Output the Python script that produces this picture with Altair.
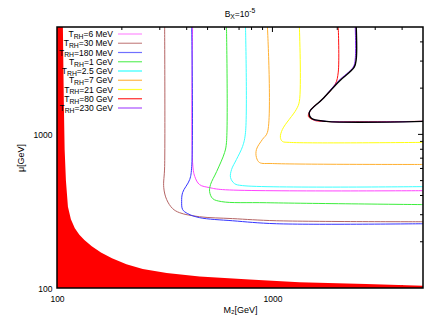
import altair as alt
import pandas as pd

# ---------------- data ----------------
series_names = ["6 MeV", "30 MeV", "180 MeV", "1 GeV", "2.5 GeV", "7 GeV", "21 GeV", "80 GeV", "230 GeV"]
line_colors = ["#ff44ff", "#b56565", "#3535ff", "#3cee3c", "#3cffff", "#ffb030", "#ffff10", "#ff1010", "#9030ff"]
legend_colors = ["#ff8cff", "#c88888", "#7070ff", "#60f060", "#30ffff", "#ffb848", "#ffff30", "#ff2828", "#a850ff"]

curve_M = {
    "6 MeV":   [426, 426, 436, 459, 511, 587, 5000],
    "30 MeV":  [316, 316, 313, 323, 344, 371, 459, 653, 1044, 5000],
    "180 MeV": [422, 422, 413, 383, 379, 383, 404, 459, 653, 1044, 5000],
    "1 GeV":   [612, 612, 600, 551, 516, 511, 528, 581, 938, 5000],
    "2.5 GeV": [750, 750, 727, 681, 646, 639, 667, 727, 5000],
    "7 GeV":   [948, 948, 899, 843, 843, 871, 1000, 5000],
    "21 GeV":  [1334, 1334, 1292, 1113, 1089, 1113, 1199, 5000],
    "80 GeV":  [2021, 2021, 1957, 1705, 1516, 1468, 1565, 1687, 5000],
    "230 GeV": [2423, 2423, 2371, 2020, 1705, 1484, 1516, 1778, 5000],
}
curve_mu = {
    "6 MeV":   [5000, 656, 532, 471, 450, 437, 430],
    "30 MeV":  [5000, 618, 450, 376, 329, 309, 291, 283, 274, 270],
    "180 MeV": [5000, 618, 508, 418, 365, 324, 305, 287, 274, 262, 262],
    "1 GeV":   [5000, 887, 763, 573, 471, 424, 382, 365, 359, 349],
    "2.5 GeV": [5000, 1030, 835, 687, 590, 524, 478, 464, 457],
    "7 GeV":   [5000, 1030, 928, 798, 707, 656, 646, 637],
    "21 GeV":  [5000, 1643, 1457, 1078, 956, 900, 887, 887],
    "80 GeV":  [5000, 2543, 2122, 1693, 1457, 1311, 1235, 1216, 1216],
    "230 GeV": [5000, 3092, 2741, 2221, 1693, 1392, 1272, 1216, 1216],
}
black_M = [2449, 2449, 2397, 2043, 1705, 1484, 1516, 1778, 5000]
black_mu = [5000, 3092, 2741, 2221, 1693, 1392, 1272, 1216, 1216]

red_M = [100, 106.5, 107.5, 108.5, 110, 112.4, 116, 121, 127, 134, 145, 160, 180, 210, 250, 323, 459, 783, 1334, 2723, 5000]
red_mu = [5000, 5000, 1700, 800, 500, 338, 280, 245, 222, 205, 187, 170, 156, 143, 133, 125, 119, 113.5, 109, 106, 103.5]

axis_labels = [100, 1000]
major_ticks = [1000]
minor_ticks = [200, 300, 400, 500, 600, 700, 800, 900, 2000, 3000, 4000]

# ---------------- layout ----------------
W, H = 366, 261
FONT = "Liberation Sans"
FS, SFS = 8.5, 6.8
ARIAL = {c: 556 for c in "0123456789"}
ARIAL.update({" ": 278, "=": 584, ".": 278, "M": 833, "e": 556, "V": 667, "G": 778,
              "T": 611, "R": 722, "H": 722, "B": 667, "X": 667, "-": 333})


def tw(s, size):
    return sum(ARIAL.get(c, 556) for c in s) * size / 1000.0


xs = alt.Scale(type="log", domain=[100, 5000], nice=False)
ys = alt.Scale(type="log", domain=[100, 5000], nice=False)

xaxis = alt.Axis(values=axis_labels, format="d", title="M₂[GeV]", ticks=False, domain=False,
                 grid=False, labelFontSize=FS, labelPadding=6, labelFlush=False,
                 titleFontSize=9, titleFontWeight="normal", titlePadding=3)
yaxis = alt.Axis(values=axis_labels, format="d", title="μ[GeV]", ticks=False, domain=False,
                 grid=False, labelFontSize=FS, labelPadding=5, labelFlush=False,
                 titleFontSize=9, titleFontWeight="normal", titlePadding=8)


def X():
    return alt.X("M:Q", scale=xs, axis=xaxis)


def Y():
    return alt.Y("mu:Q", scale=ys, axis=yaxis)


rows = []
for name in series_names:
    for k, (m, u) in enumerate(zip(curve_M[name], curve_mu[name])):
        rows.append({"s": name, "M": m, "mu": u, "k": k})
curves = pd.DataFrame(rows)
black = pd.DataFrame({"M": black_M, "mu": black_mu, "k": list(range(len(black_M)))})
red = pd.DataFrame({"M": red_M, "mu": red_mu, "base": [100] * len(red_M)})

layers = []

# inward ticks (gnuplot style, mirrored)
for vals, L in [(major_ticks, 5), (minor_ticks, 3)]:
    tdf = pd.DataFrame({"M": vals, "mu": vals})
    base = alt.Chart(tdf).mark_rule(color="black", strokeWidth=1)
    layers.append(base.encode(x=X(), y=alt.value(H), y2=alt.value(H - L)))
    layers.append(base.encode(x=X(), y=alt.value(0), y2=alt.value(L)))
    layers.append(base.encode(y=Y(), x=alt.value(0), x2=alt.value(L)))
    layers.append(base.encode(y=Y(), x=alt.value(W), x2=alt.value(W - L)))

# red excluded region
layers.append(
    alt.Chart(red).mark_area(color="#ff0000", opacity=1, clip=True).encode(
        x=X(), y=Y(), y2="base:Q",
    )
)

# contour lines
layers.append(
    alt.Chart(curves).mark_line(strokeWidth=1, clip=True, interpolate="catmull-rom").encode(
        x=X(), y=Y(),
        color=alt.Color("s:N", scale=alt.Scale(domain=series_names, range=line_colors), legend=None),
        order="k:Q",
    )
)
layers.append(
    alt.Chart(black).mark_line(strokeWidth=1.4, color="black", clip=True, interpolate="catmull-rom").encode(
        x=X(), y=Y(), order="k:Q",
    )
)

# border on top
layers.append(
    alt.Chart(alt.Data(values=[{}])).mark_rect(fill=None, stroke="black", strokeWidth=1.5).encode(
        x=alt.value(0), x2=alt.value(W), y=alt.value(0), y2=alt.value(H)
    )
)

# legend (gnuplot style, right aligned text with subscript)
main_rows, sub_rows, key_rows = [], [], []
for i, lab in enumerate(series_names):
    y = 7 + 9.25 * i
    s3 = "=" + lab
    x3 = 56
    x2 = x3 - tw(s3, FS)
    x1 = x2 - tw("RH", SFS)
    main_rows.append({"px": x3, "py": y, "t": s3})
    main_rows.append({"px": x1, "py": y, "t": "T"})
    sub_rows.append({"px": x2, "py": y + 2.8, "t": "RH"})
    key_rows.append({"px": 61, "px2": 85, "py": y, "c": legend_colors[i]})

layers.append(
    alt.Chart(pd.DataFrame(main_rows)).mark_text(align="right", baseline="middle", fontSize=FS, font=FONT, color="black").encode(
        x=alt.X("px:Q", scale=None, axis=None), y=alt.Y("py:Q", scale=None, axis=None), text="t:N"
    )
)
layers.append(
    alt.Chart(pd.DataFrame(sub_rows)).mark_text(align="right", baseline="middle", fontSize=SFS, font=FONT, color="black").encode(
        x=alt.X("px:Q", scale=None, axis=None), y=alt.Y("py:Q", scale=None, axis=None), text="t:N"
    )
)
layers.append(
    alt.Chart(pd.DataFrame(key_rows)).mark_rule(strokeWidth=1.2).encode(
        x=alt.X("px:Q", scale=None, axis=None), x2="px2:Q",
        y=alt.Y("py:Q", scale=None, axis=None),
        color=alt.Color("c:N", scale=None),
    )
)

# title B_X = 10^-5
parts = [("B", FS, 0), ("X", SFS, 2.8), ("=10", FS, 0), ("-5", SFS, -3.3)]
total = sum(tw(t, s) for t, s, _ in parts)
x0 = W / 2 - total / 2
trows_main, trows_sub = [], []
for t, s, dy in parts:
    r = {"px": x0, "py": -13 + dy, "t": t}
    (trows_main if s == FS else trows_sub).append(r)
    x0 += tw(t, s)
layers.append(
    alt.Chart(pd.DataFrame(trows_main)).mark_text(align="left", baseline="middle", fontSize=FS, font=FONT, color="black").encode(
        x=alt.X("px:Q", scale=None, axis=None), y=alt.Y("py:Q", scale=None, axis=None), text="t:N"
    )
)
layers.append(
    alt.Chart(pd.DataFrame(trows_sub)).mark_text(align="left", baseline="middle", fontSize=SFS, font=FONT, color="black").encode(
        x=alt.X("px:Q", scale=None, axis=None), y=alt.Y("py:Q", scale=None, axis=None), text="t:N"
    )
)

chart = alt.layer(*layers).properties(
    width=W, height=H,
    padding={"left": 49, "top": 19, "right": 5, "bottom": 31},
    autosize=alt.AutoSizeParams(type="none"),
).configure_view(stroke=None).configure_axis(
    labelFont=FONT, titleFont=FONT, labelColor="black", titleColor="black"
)

chart.save("out.html", embed_options={"renderer": "svg", "actions": False})
